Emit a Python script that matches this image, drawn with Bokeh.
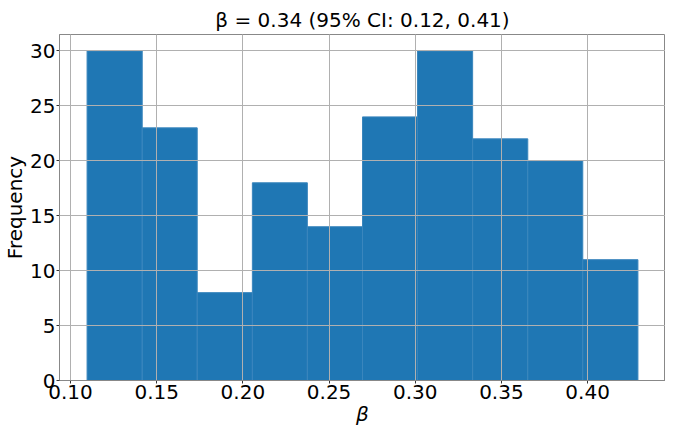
from bokeh.plotting import figure
from bokeh.embed import file_html
from bokeh.resources import INLINE
from bokeh.models import Range1d, FixedTicker

bin_edges = [0.1096, 0.1416, 0.1735, 0.2055, 0.2374, 0.2694, 0.3013, 0.3333, 0.3653, 0.3972, 0.4292]
counts = [30, 23, 8, 18, 14, 24, 30, 22, 20, 11]
x_ticks = [0.10, 0.15, 0.20, 0.25, 0.30, 0.35, 0.40]
y_ticks = [0, 5, 10, 15, 20, 25, 30]

FONT = "DejaVu Sans"

p = figure(width=665, height=428, output_backend="svg", toolbar_location=None,
           x_range=Range1d(0.0936, 0.4452), y_range=Range1d(0, 31.5),
           min_border_left=10, min_border_right=0, min_border_top=34, min_border_bottom=10)

p.quad(left=bin_edges[:-1], right=bin_edges[1:], bottom=0, top=counts,
       fill_color="#1f77b4", line_color="#3a86bd", line_width=1)

p.title.text = "β = 0.34 (95% CI: 0.12, 0.41)"
p.title.align = "center"
p.title.text_font = FONT
p.title.text_font_size = "20px"
p.title.text_font_style = "normal"
p.title.text_color = "#000000"
p.title.standoff = 6

p.xaxis.ticker = FixedTicker(ticks=x_ticks)
p.yaxis.ticker = FixedTicker(ticks=y_ticks)
p.xaxis.major_label_overrides = {t: f"{t:.2f}" for t in x_ticks}
p.xaxis.axis_label = "β"
p.xaxis.axis_label_text_font_style = "italic"
p.yaxis.axis_label = "Frequency"
p.yaxis.axis_label_text_font_style = "normal"

for ax in (p.xaxis[0], p.yaxis[0]):
    ax.major_label_text_font = FONT
    ax.major_label_text_font_size = "20px"
    ax.major_label_text_color = "#000000"
    ax.axis_label_text_font = FONT
    ax.axis_label_text_font_size = "20px"
    ax.axis_label_text_color = "#000000"
    ax.axis_line_color = "#888888"
    ax.major_tick_line_color = "#333333"
    ax.major_tick_in = 0
    ax.major_tick_out = 3
    ax.minor_tick_line_color = None
    ax.axis_label_standoff = 0
    ax.major_label_standoff = 1

for g in (p.xgrid[0], p.ygrid[0]):
    g.grid_line_color = "#b0b0b0"
    g.grid_line_width = 1
    g.level = "overlay"

p.outline_line_color = "#888888"
p.outline_line_width = 1
p.background_fill_color = "white"
p.border_fill_color = "white"

open("out.html", "w").write(file_html(p, INLINE))
